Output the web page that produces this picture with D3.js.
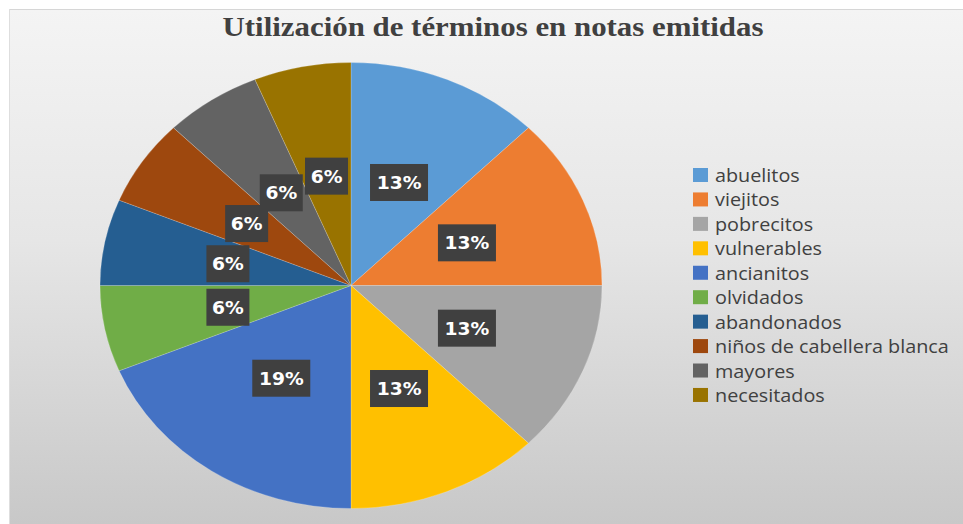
<!DOCTYPE html>
<html><head><meta charset="utf-8">
<script src="https://cdn.jsdelivr.net/npm/d3@7"></script>
<style>html,body{margin:0;padding:0;background:#fff;}svg{display:block;}</style>
</head><body>
<svg id="c" width="963" height="524"></svg>
<script>
const categories = ["abuelitos","viejitos","pobrecitos","vulnerables","ancianitos","olvidados","abandonados","niños de cabellera blanca","mayores","necesitados"];
const counts = [2,2,2,2,3,1,1,1,1,1];
const percentLabels = ["13%","13%","13%","13%","19%","6%","6%","6%","6%","6%"];
const colors = ["#5B9BD5","#ED7D31","#A5A5A5","#FFC000","#4472C4","#70AD47","#255E91","#9E480E","#636363","#997300"];
const title = "Utilización de términos en notas emitidas";

const svg = d3.select("#c");
const defs = svg.append("defs");
const grad = defs.append("linearGradient").attr("id","bg").attr("x1",0).attr("y1",0).attr("x2",0).attr("y2",1);
grad.append("stop").attr("offset","0%").attr("stop-color","#f4f4f4");
grad.append("stop").attr("offset","45%").attr("stop-color","#e6e6e6");
grad.append("stop").attr("offset","100%").attr("stop-color","#c8c8c8");
svg.append("rect").attr("x",9).attr("y",9).attr("width",954).attr("height",515).attr("fill","url(#bg)");
svg.append("line").attr("x1",9).attr("x2",963).attr("y1",9.5).attr("y2",9.5).attr("stroke","#d6d6d6");
svg.append("line").attr("x1",9.5).attr("x2",9.5).attr("y1",9).attr("y2",524).attr("stroke","#dedede");

svg.append("text").attr("x",493).attr("y",36).attr("text-anchor","middle")
  .attr("font-family","Liberation Serif, serif").attr("font-weight","bold").attr("font-size",28)
  .attr("fill","#404040").attr("textLength",541).attr("lengthAdjust","spacingAndGlyphs").text(title);

const cx = 351, cy = 285.5, R = 223, sx = 251/223;
const pie = d3.pie().sort(null).value(d=>d)(counts);
const arc = d3.arc().innerRadius(0).outerRadius(R);
const g = svg.append("g").attr("transform",`translate(${cx},${cy}) scale(${sx},1)`);
g.selectAll("path").data(pie).join("path").attr("d",arc).attr("fill",(d,i)=>colors[i])
  .attr("stroke","rgba(255,255,255,0.3)").attr("stroke-width",0.6);

const lab = svg.append("g").attr("transform",`translate(${cx},${cy})`);
pie.forEach((d,i)=>{
  const c = arc.centroid(d);
  const x = c[0]*sx, y = c[1];
  const w = percentLabels[i].length===3 ? 58 : 43, h = 37;
  lab.append("rect").attr("x",x-w/2).attr("y",y-h/2).attr("width",w).attr("height",h).attr("fill","#404040");
  lab.append("text").attr("transform",`translate(${x},${y+6.5}) scale(1.1,1)`).attr("text-anchor","middle")
    .attr("font-family","DejaVu Sans, sans-serif").attr("font-weight","bold").attr("font-size",17)
    .attr("fill","#fff").text(percentLabels[i]);
});

const leg = svg.append("g");
const ly = d3.scaleBand().domain(categories).range([168,412.4]).paddingInner(0);
categories.forEach((c,i)=>{
  const y = ly(c);
  leg.append("rect").attr("x",693).attr("y",y).attr("width",15).attr("height",14).attr("fill",colors[i]);
  leg.append("text").attr("transform",`translate(715,${y+14}) scale(1.125,1)`).attr("font-family","Open Sans, sans-serif")
    .attr("font-size",17.6).attr("fill","#404040").text(c);
});
</script>
</body></html>
